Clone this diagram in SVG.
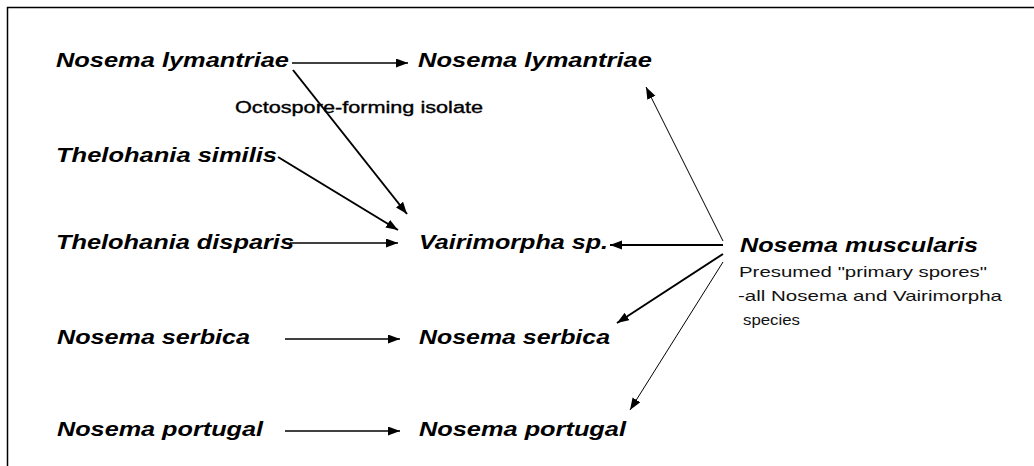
<svg xmlns="http://www.w3.org/2000/svg" width="1034" height="466" viewBox="0 0 1034 466">
<style>
.sp{font-family:"Liberation Sans",Arial,sans-serif;font-weight:bold;font-style:italic;font-size:20.5px;fill:#000}
.lb{font-family:"Liberation Sans",Arial,sans-serif;font-size:16px;fill:#000;stroke:#000;stroke-width:0.35}
.nt{font-family:"Liberation Sans",Arial,sans-serif;font-size:15px;fill:#111}
.c{stroke:#000;fill:none;marker-end:url(#ah)}
.w1{stroke-width:1}
.w15{stroke-width:1.6}
.w2{stroke-width:2}
</style>
<defs>
<marker id="ah" markerUnits="userSpaceOnUse" markerWidth="13" markerHeight="10" refX="12" refY="4.5" orient="auto">
<path d="M0,0 L12,4.5 L0,9 z" fill="#000"/>
</marker>
</defs>
<rect width="1034" height="466" fill="#fff"/>
<path d="M7.5,466 V7.5 H1034" stroke="#000" stroke-width="1.5" fill="none"/>
<g id="connectors">
<line class="c w15" x1="292" y1="63" x2="408" y2="63"/>
<line class="c w2" x1="293" y1="70" x2="407" y2="214"/>
<line class="c w2" x1="278" y1="157" x2="398" y2="230"/>
<line class="c w15" x1="290" y1="243" x2="398" y2="243"/>
<line class="c w15" x1="285" y1="339" x2="400" y2="339"/>
<line class="c w15" x1="285" y1="431" x2="400" y2="431"/>
<line class="c w1" x1="723" y1="241" x2="646" y2="87"/>
<line class="c w2" x1="723" y1="245" x2="610" y2="245"/>
<line class="c w2" x1="723" y1="254" x2="617" y2="323"/>
<line class="c w1" x1="723" y1="262" x2="630" y2="410"/>
</g>
<g id="n-lym-src"><text class="sp" x="56" y="67" textLength="233" lengthAdjust="spacingAndGlyphs">Nosema lymantriae</text></g>
<g id="n-lym-dst"><text class="sp" x="418" y="67" textLength="234" lengthAdjust="spacingAndGlyphs">Nosema lymantriae</text></g>
<g id="label-octo"><text class="lb" x="235" y="113" textLength="248" lengthAdjust="spacingAndGlyphs">Octospore-forming isolate</text></g>
<g id="n-similis"><text class="sp" x="56" y="162" textLength="221" lengthAdjust="spacingAndGlyphs">Thelohania similis</text></g>
<g id="n-disparis"><text class="sp" x="56" y="249" textLength="238" lengthAdjust="spacingAndGlyphs">Thelohania disparis</text></g>
<g id="n-vairimorpha"><text class="sp" x="419" y="249" textLength="189" lengthAdjust="spacingAndGlyphs">Vairimorpha sp.</text></g>
<g id="n-muscularis">
<text class="sp" x="740" y="252" textLength="238" lengthAdjust="spacingAndGlyphs">Nosema muscularis</text>
<text class="nt" x="739" y="277" textLength="248" lengthAdjust="spacingAndGlyphs">Presumed "primary spores"</text>
<text class="nt" x="738" y="301" textLength="264" lengthAdjust="spacingAndGlyphs">-all Nosema and Vairimorpha</text>
<text class="nt" x="743" y="325" textLength="57" lengthAdjust="spacingAndGlyphs">species</text>
</g>
<g id="n-serbica-src"><text class="sp" x="57" y="344" textLength="193" lengthAdjust="spacingAndGlyphs">Nosema serbica</text></g>
<g id="n-serbica-dst"><text class="sp" x="419" y="344" textLength="191" lengthAdjust="spacingAndGlyphs">Nosema serbica</text></g>
<g id="n-portugal-src"><text class="sp" x="57" y="436" textLength="206" lengthAdjust="spacingAndGlyphs">Nosema portugal</text></g>
<g id="n-portugal-dst"><text class="sp" x="419" y="436" textLength="207" lengthAdjust="spacingAndGlyphs">Nosema portugal</text></g>
</svg>
